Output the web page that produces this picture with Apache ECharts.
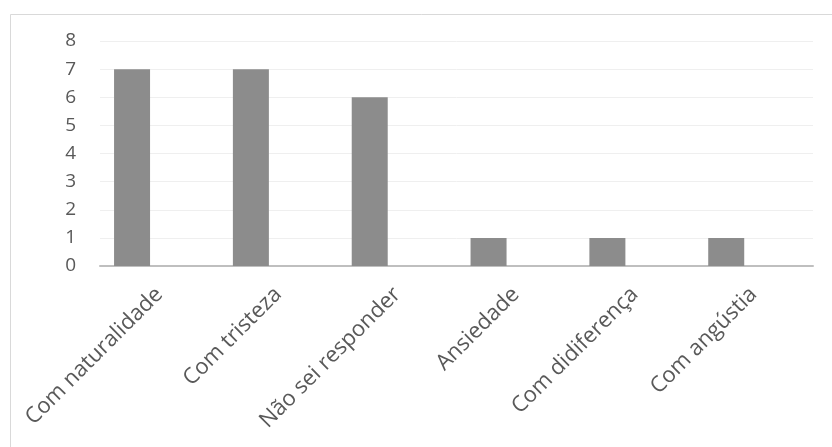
<!DOCTYPE html>
<html>
<head>
<meta charset="utf-8">
<script src="https://cdn.jsdelivr.net/npm/echarts@6/dist/echarts.min.js"></script>
<style>
html, body { margin: 0; padding: 0; background: #fff; }
#chart { width: 832px; height: 447px; }
</style>
</head>
<body>
<div id="chart"></div>
<script>
var categories = ["Com naturalidade", "Com tristeza", "Não sei responder", "Ansiedade", "Com didiferença", "Com angústia"];
var values = [7, 7, 6, 1, 1, 1];
var emptyValues = ["-", "-", "-", "-", "-", "-"]; // segunda série vazia (desloca as barras como no original)
var yTicks = [0, 8, 1]; // min, max, intervalo

var chart = echarts.init(document.getElementById("chart"));

chart.setOption({
    animation: false,
    backgroundColor: "#fff",
    graphic: [{
        type: "rect",
        left: 8,
        top: 12,
        shape: { width: 840, height: 450 },
        style: { fill: "none", stroke: "#d9d9d9", lineWidth: 1 }
    }],
    grid: { left: 100, right: 19, top: 41, bottom: 181 },
    xAxis: {
        type: "category",
        data: categories,
        axisLine: { lineStyle: { color: "#bfbfbf", width: 2 } },
        axisTick: { show: false },
        axisLabel: {
            interval: 0,
            rotate: 45,
            margin: 25,
            color: "#595959",
            fontFamily: "Open Sans",
            fontSize: 22
        }
    },
    yAxis: {
        type: "value",
        min: yTicks[0],
        max: yTicks[1],
        interval: yTicks[2],
        axisLine: { show: false },
        axisTick: { show: false },
        splitLine: { lineStyle: { color: "#efefef", width: 1 } },
        axisLabel: {
            margin: 24,
            color: "#595959",
            fontFamily: "Open Sans",
            fontSize: 19
        }
    },
    series: [{
        type: "bar",
        data: values,
        barWidth: 36,
        barGap: "52%",
        itemStyle: { color: "#8c8c8c" }
    }, {
        type: "bar",
        data: emptyValues,
        barWidth: 36,
        itemStyle: { color: "#8c8c8c" }
    }]
});
</script>
</body>
</html>
